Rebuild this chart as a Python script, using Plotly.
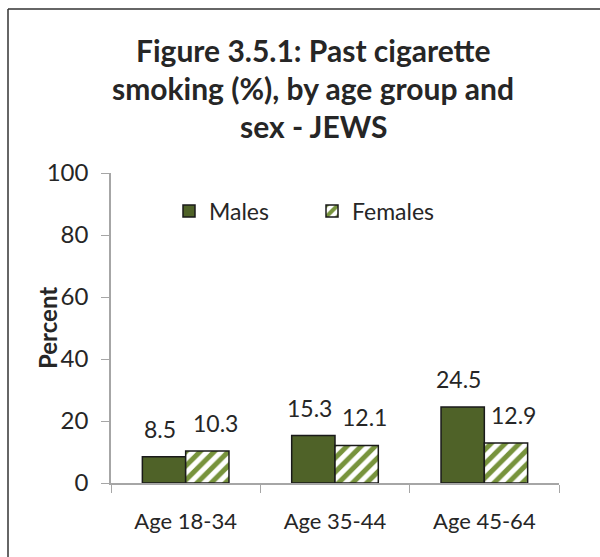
import plotly.graph_objects as go

categories = ["Age 18-34", "Age 35-44", "Age 45-64"]
males = [8.5, 15.3, 24.5]
females = [10.3, 12.1, 12.9]
y_ticks = [0, 20, 40, 60, 80, 100]
title_lines = ["Figure 3.5.1: Past cigarette", "smoking (%), by age group and", "sex - JEWS"]

W, H = 600, 557
ML, MR, MT, MB = 111, 41, 173, 74
PW, PH = W - ML - MR, H - MT - MB
BARGAP = 0.42
CAT_W = PW / len(categories)
BAR_W = CAT_W * (1 - BARGAP) / 2

def px_x(x):
    return (x - ML) / PW

def px_y(y):
    return (H - MB - y) / PH

FONT = "Lato"
TXT = "#262626"
fig = go.Figure()
fig.add_trace(go.Bar(
    x=categories, y=males, name="Males",
    marker=dict(color="#4F6228", line=dict(color="#1a1a1a", width=1.5)),
))
fig.add_trace(go.Bar(
    x=categories, y=females, name="Females",
    marker=dict(color="white", line=dict(color="#1a1a1a", width=1.5),
                pattern=dict(shape="/", fgcolor="#77933C", bgcolor="white",
                             size=10, solidity=0.5, fillmode="replace")),
))

annotations = []
for series, shift in ((males, -BAR_W / 2 - 4), (females, BAR_W / 2 + 8)):
    for cat, v in zip(categories, series):
        annotations.append(dict(
            x=cat, y=v, xref="x", yref="y", text=f"{v:.1f}", showarrow=False,
            xshift=shift, yshift=28, xanchor="center", yanchor="middle",
            font=dict(size=23, color=TXT, family=FONT)))
for i, line in enumerate(title_lines):
    annotations.append(dict(
        text=f"<b>{line}</b>", x=px_x(313), y=px_y(50 + 38 * i),
        xref="paper", yref="paper", xanchor="center", yanchor="middle",
        showarrow=False, font=dict(size=30, color=TXT, family=FONT)))
annotations.append(dict(
    text="<b>Percent</b>", x=px_x(47), y=px_y(328), xref="paper", yref="paper",
    xanchor="center", yanchor="middle", textangle=-90, showarrow=False,
    font=dict(size=24, color=TXT, family=FONT)))

shapes = [
    dict(type="line", xref="paper", yref="paper", x0=px_x(8), x1=px_x(8),
         y0=px_y(9), y1=px_y(570), line=dict(color="#333333", width=1.5)),
    dict(type="line", xref="paper", yref="paper", x0=px_x(8), x1=px_x(610),
         y0=px_y(9), y1=px_y(9), line=dict(color="#333333", width=1.5)),
]

fig.update_layout(
    width=W, height=H,
    margin=dict(l=ML, r=MR, t=MT, b=MB),
    paper_bgcolor="white", plot_bgcolor="white",
    barmode="group", bargap=BARGAP, bargroupgap=0,
    font=dict(family=FONT, size=20, color=TXT),
    showlegend=True,
    legend=dict(orientation="h", x=px_x(169), y=px_y(211), xanchor="left",
                yanchor="middle", font=dict(size=23, color=TXT, family=FONT),
                entrywidth=98, entrywidthmode="pixels", bgcolor="rgba(0,0,0,0)"),
    xaxis=dict(showline=True, linecolor="#a6a6a6", linewidth=1.5,
               ticks="outside", tickson="boundaries", ticklen=8, tickcolor="#a6a6a6",
               ticklabelstandoff=18,
               tickfont=dict(size=22, color=TXT, family=FONT), showgrid=False),
    yaxis=dict(range=[0, 100], tickvals=y_ticks, showline=True, linecolor="#a6a6a6",
               linewidth=1.5, ticks="outside", ticklen=8, tickcolor="#a6a6a6",
               ticklabelstandoff=8,
               tickfont=dict(size=24, color=TXT, family=FONT), showgrid=False,
               zeroline=False),
    annotations=annotations, shapes=shapes,
)
fig.write_html("out.html")
